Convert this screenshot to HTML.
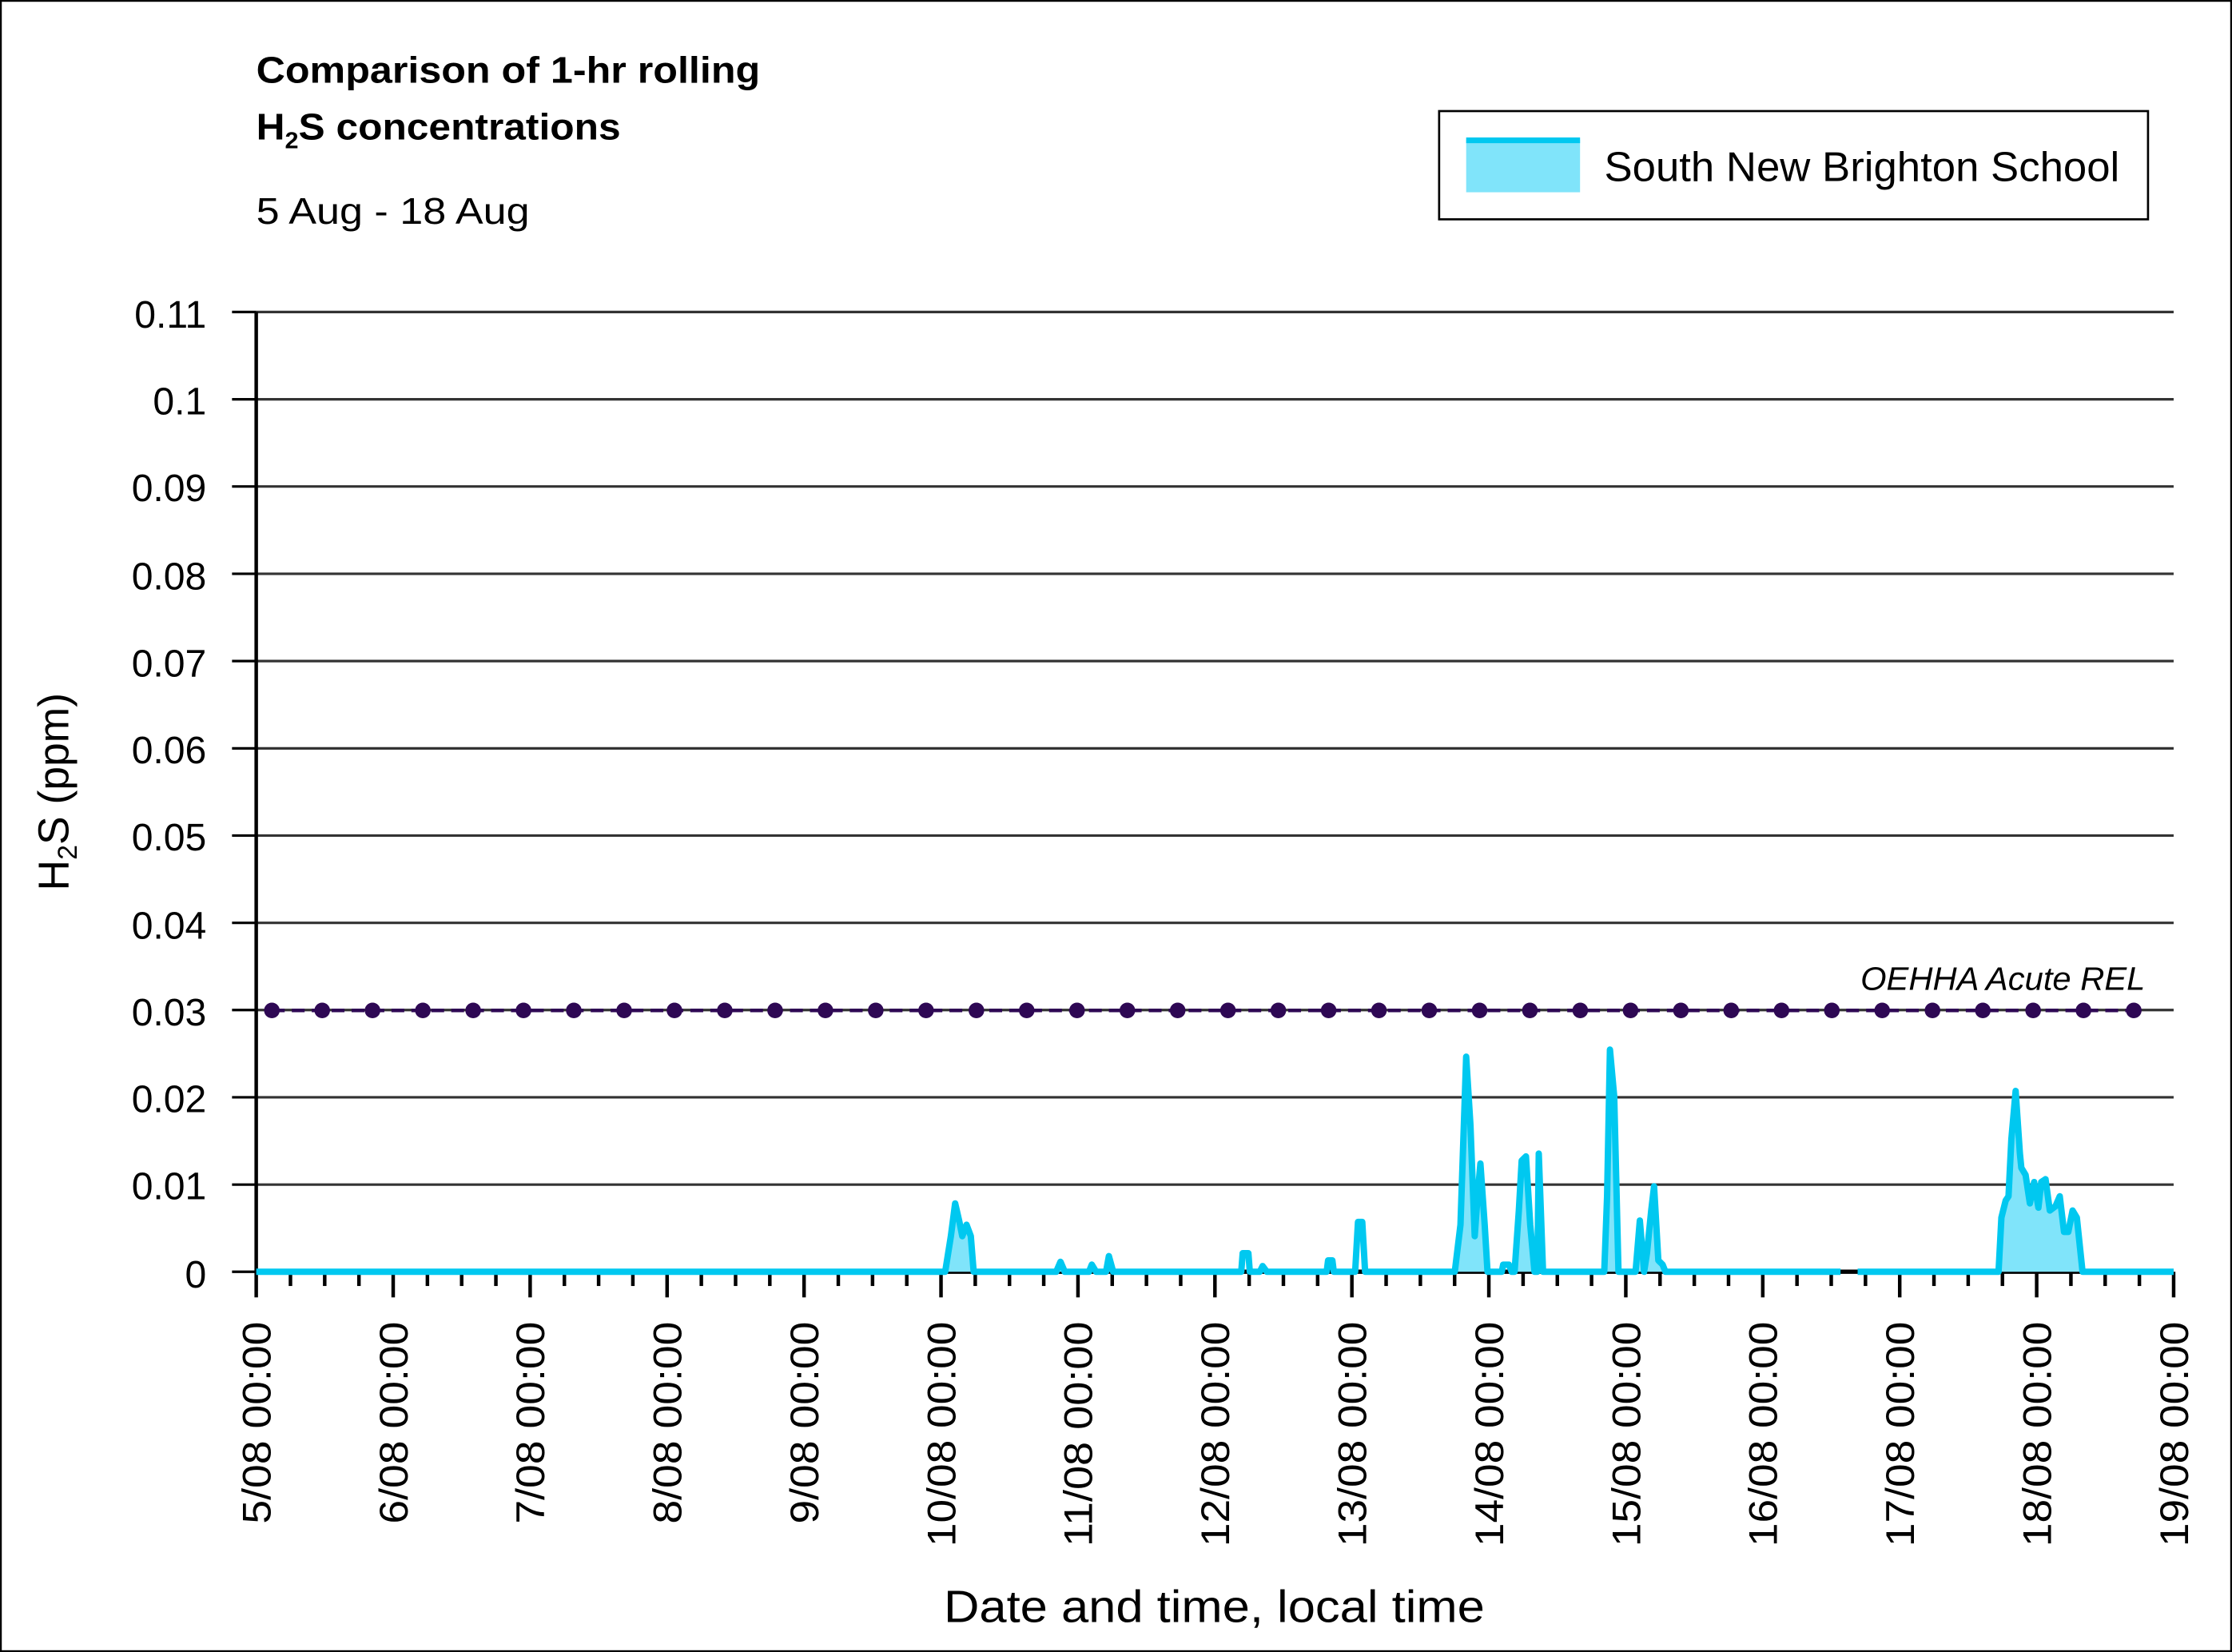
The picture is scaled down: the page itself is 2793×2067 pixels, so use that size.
<!DOCTYPE html>
<html><head><meta charset="utf-8"><style>html,body{margin:0;padding:0;background:#fff}svg{display:block}</style></head><body>
<svg width="2793" height="2067" viewBox="0 0 1568 1160" preserveAspectRatio="none" xmlns="http://www.w3.org/2000/svg" font-family="'Liberation Sans', sans-serif">
<rect x="0.5" y="0.5" width="1567" height="1159" fill="#fff" stroke="#000" stroke-width="1.5"/>
<text x="180" y="58" font-size="26" font-weight="bold" textLength="354" lengthAdjust="spacingAndGlyphs">Comparison of 1-hr rolling</text>
<text x="180" y="98" font-size="26" font-weight="bold" textLength="256" lengthAdjust="spacingAndGlyphs">H<tspan font-size="16" dy="6">2</tspan><tspan dy="-6">S concentrations</tspan></text>
<text x="180" y="157" font-size="26" textLength="192" lengthAdjust="spacingAndGlyphs">5 Aug - 18 Aug</text>
<rect x="1011" y="78" width="498" height="76" fill="#fff" stroke="#000" stroke-width="1.5"/>
<rect x="1030" y="98" width="80" height="37" fill="#80E4FA"/>
<line x1="1030" y1="98.5" x2="1110" y2="98.5" stroke="#00C8F0" stroke-width="4"/>
<text x="1127" y="127" font-size="29" textLength="362" lengthAdjust="spacingAndGlyphs">South New Brighton School</text>
<g stroke="#333" stroke-width="1.8">
<line x1="180" y1="219.1" x2="1527" y2="219.1"/><line x1="180" y1="280.4" x2="1527" y2="280.4"/><line x1="180" y1="341.6" x2="1527" y2="341.6"/><line x1="180" y1="402.9" x2="1527" y2="402.9"/><line x1="180" y1="464.2" x2="1527" y2="464.2"/><line x1="180" y1="525.5" x2="1527" y2="525.5"/><line x1="180" y1="586.7" x2="1527" y2="586.7"/><line x1="180" y1="648" x2="1527" y2="648"/><line x1="180" y1="709.2" x2="1527" y2="709.2"/><line x1="180" y1="770.5" x2="1527" y2="770.5"/><line x1="180" y1="831.8" x2="1527" y2="831.8"/>
</g>
<g stroke="#000" stroke-width="1.8">
<line x1="163" y1="219.1" x2="180" y2="219.1"/><line x1="163" y1="280.4" x2="180" y2="280.4"/><line x1="163" y1="341.6" x2="180" y2="341.6"/><line x1="163" y1="402.9" x2="180" y2="402.9"/><line x1="163" y1="464.2" x2="180" y2="464.2"/><line x1="163" y1="525.5" x2="180" y2="525.5"/><line x1="163" y1="586.7" x2="180" y2="586.7"/><line x1="163" y1="648" x2="180" y2="648"/><line x1="163" y1="709.2" x2="180" y2="709.2"/><line x1="163" y1="770.5" x2="180" y2="770.5"/><line x1="163" y1="831.8" x2="180" y2="831.8"/><line x1="163" y1="893" x2="180" y2="893"/>
</g>
<line x1="180" y1="219" x2="180" y2="893" stroke="#000" stroke-width="2.5"/>
<line x1="180" y1="893" x2="1527" y2="893" stroke="#000" stroke-width="3"/>
<g font-size="27" text-anchor="end">
<text x="145" y="230">0.11</text><text x="145" y="291">0.1</text><text x="145" y="352">0.09</text><text x="145" y="414">0.08</text><text x="145" y="475">0.07</text><text x="145" y="536">0.06</text><text x="145" y="597">0.05</text><text x="145" y="659">0.04</text><text x="145" y="720">0.03</text><text x="145" y="781">0.02</text><text x="145" y="842">0.01</text><text x="145" y="904">0</text>
</g>
<text transform="translate(48,556) rotate(-90)" font-size="30" text-anchor="middle">H<tspan font-size="19" dy="6">2</tspan><tspan dy="-6">S (ppm)</tspan></text>
<g id="ticks" stroke="#000" stroke-width="2.5"></g>
<g id="xl" font-size="28"></g>
<text x="853" y="1139" font-size="32" text-anchor="middle" textLength="380" lengthAdjust="spacingAndGlyphs">Date and time, local time</text>
<line x1="191" y1="709.5" x2="1499" y2="709.5" stroke="#2E0854" stroke-width="2.5" stroke-dasharray="9,5"/>
<g id="dots" fill="#2E0854"></g>
<text x="1507" y="695" font-size="23" font-style="italic" text-anchor="end" textLength="200" lengthAdjust="spacingAndGlyphs">OEHHA Acute REL</text>
<polygon fill="#80E4FA" points="664,893 668,868 671,845 674,858 676,868 679,860 682,868 684,893
 742,893 745,886 748,893 777,893 779,882 782,893
 1022,893 1026,860 1030,742 1033,790 1036,868 1038,840 1040,817 1043,860 1045,893
 1064,893 1067,850 1069,815 1072,812 1075,860 1078,893 1080,893 1081,810 1084,893
 1127,893 1129,840 1131,737 1134,770 1137,893
 1149,893 1152,857 1155,893 1157,880 1160,850 1162,833 1165,885 1168,893
 1404,893 1406,855 1409,843 1411,840 1413,800 1416,766 1419,810 1420,820 1423,825 1426,845 1429,830 1432,848 1434,830 1437,828 1440,850 1444,847 1447,840 1450,865 1453,865 1456,850 1459,855 1463,893"/>
<polyline fill="none" stroke="#00C8F0" stroke-width="4.5" stroke-linejoin="round" points="180,893 664,893 668,868 671,845 674,858 676,868 679,860 682,868 684,893 742,893 745,886 748,893 765,893 767,888 770,893 777,893 779,882 782,893 872,893 873,880 877,880 878,893 885,893 887,889 890,893 932,893 933,885 936,885 937,893 952,893 954,858 957,858 959,893 1022,893 1026,860 1030,742 1033,790 1036,868 1038,840 1040,817 1043,860 1045,893 1055,893 1056,888 1060,888 1062,893 1064,893 1067,850 1069,815 1072,812 1075,860 1078,893 1080,893 1081,810 1084,893 1127,893 1129,840 1131,737 1134,770 1137,893 1149,893 1152,857 1155,893 1157,880 1160,850 1162,833 1165,885 1168,888 1170,893 1293,893"/>
<polyline fill="none" stroke="#00C8F0" stroke-width="4.5" stroke-linejoin="round" points="1305,893 1404,893 1406,855 1409,843 1411,840 1413,800 1416,766 1419,810 1420,820 1423,825 1426,845 1429,830 1432,848 1434,830 1437,828 1440,850 1444,847 1447,840 1450,865 1453,865 1456,850 1459,855 1463,893 1527,893"/>
<script>
var ns="http://www.w3.org/2000/svg",t=document.getElementById('ticks'),xl=document.getElementById('xl'),d=document.getElementById('dots');
var w=(1527-180)/14;
for(var i=0;i<=56;i++){var x=180+i*w/4,l=document.createElementNS(ns,'line');l.setAttribute('x1',x);l.setAttribute('x2',x);l.setAttribute('y1',893);l.setAttribute('y2',i%4==0?911:903);t.appendChild(l);}
for(var i=0;i<=14;i++){var x=180+i*w,tx=document.createElementNS(ns,'text');tx.setAttribute('transform','translate('+(x+10)+',928) rotate(-90)');tx.setAttribute('text-anchor','end');var len=(i<5)?142:158;tx.setAttribute('textLength',len);tx.setAttribute('lengthAdjust','spacingAndGlyphs');tx.textContent=(5+i)+'/08 00:00';xl.appendChild(tx);}
for(var i=0;i<38;i++){var c=document.createElementNS(ns,'circle');c.setAttribute('cx',191+i*(1499-191)/37);c.setAttribute('cy',709.5);c.setAttribute('r',5.5);d.appendChild(c);}
</script>
</svg>
</body></html>
